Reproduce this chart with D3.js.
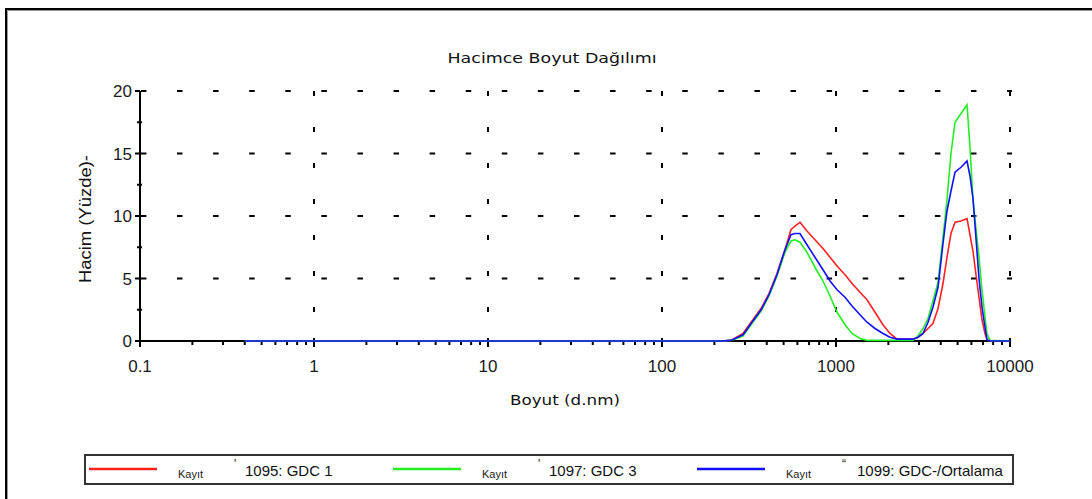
<!DOCTYPE html>
<html><head><meta charset="utf-8">
<script src="https://cdn.jsdelivr.net/npm/d3@7"></script>
<style>html,body{margin:0;padding:0;background:#fff;overflow:hidden}</style>
</head><body>
<script>
const sizes = [0.4, 221, 249, 292, 329, 371, 412, 458, 509, 551, 581, 621, 681, 757, 842, 924, 1014, 1127, 1236, 1374, 1507, 1676, 1862, 2043, 2243, 2493, 2770, 2960, 3162, 3380, 3607, 3858, 4121, 4344, 4580, 4831, 5230, 5662, 5889, 6127, 6377, 6634, 6903, 7183, 7376, 7674, 10000];
const red   = [0,0,0.05,0.6,1.6,2.6,3.8,5.4,7.3,8.9,9.2,9.5,8.8,8.1,7.4,6.7,6.0,5.3,4.6,3.9,3.3,2.3,1.3,0.6,0.15,0.15,0.15,0.3,0.6,1.0,1.4,2.6,4.6,6.7,8.6,9.5,9.6,9.8,8.5,7.2,5.3,3.5,1.7,0.6,0.1,0,0];
const green = [0,0,0.05,0.4,1.4,2.4,3.6,5.2,7.1,8.0,8.1,7.9,7.1,5.9,4.8,3.6,2.3,1.3,0.6,0.2,0.05,0.05,0.05,0.05,0.05,0.05,0.05,0.4,1.0,1.8,3.2,4.7,8.3,11.3,15.0,17.5,18.2,18.9,15.5,11.3,9.0,6.7,4.1,1.9,0.6,0.05,0];
const blue  = [0,0,0.05,0.5,1.5,2.5,3.7,5.3,7.3,8.5,8.6,8.6,7.7,6.7,5.7,4.8,4.1,3.5,2.8,2.1,1.5,1.0,0.6,0.3,0.15,0.15,0.15,0.3,0.6,1.5,2.7,4.3,7.8,10.4,12.0,13.5,13.9,14.4,13.2,11.4,8.2,5.0,2.7,1.1,0.1,0,0];
const seriesNames = ["1095: GDC  1", "1097: GDC  3", "1099: GDC-/Ortalama"];
const seriesColors = ["#ff2020", "#22ee22", "#1010ff"];
const xTicks = [0.1, 1, 10, 100, 1000, 10000];
const xTickLabels = ["0.1", "1", "10", "100", "1000", "10000"];
const yTicks = [0, 5, 10, 15, 20];
const yMinor = [2.5, 7.5, 12.5, 17.5];

const W = 1092, H = 499;
const svg = d3.select("body").append("svg").attr("width", W).attr("height", H);

// frame
svg.append("rect").attr("x", 6).attr("y", 9).attr("width", 1200).attr("height", 600)
  .attr("fill", "none").attr("stroke", "#000").attr("stroke-width", 2);
svg.append("path").attr("d", "M7.5,600 V10.5 H1200").attr("fill", "none").attr("stroke", "#999").attr("stroke-width", 1);

const x = d3.scaleLog().domain([0.1, 10000]).range([140, 1010]);
const y = d3.scaleLinear().domain([0, 20]).range([341, 91]);

// grid
const g = svg.append("g");
yTicks.filter(v => v > 0).forEach(v => {
  g.append("line").attr("x1", 140).attr("x2", 1012).attr("y1", y(v)).attr("y2", y(v))
    .attr("stroke", "#000").attr("stroke-width", 2).attr("stroke-dasharray", "5.5 30.59").attr("stroke-dashoffset", 35.18);
});
xTicks.filter(v => v > 0.1).forEach(v => {
  g.append("line").attr("x1", x(v)).attr("x2", x(v)).attr("y1", y(20)).attr("y2", y(0))
    .attr("stroke", "#000").attr("stroke-width", 2).attr("stroke-dasharray", "5 31");
});

// axes lines
svg.append("line").attr("x1", 140).attr("x2", 140).attr("y1", y(20)).attr("y2", y(0) + 1).attr("stroke", "#000").attr("stroke-width", 2);
svg.append("line").attr("x1", 139).attr("x2", 1011).attr("y1", y(0)).attr("y2", y(0)).attr("stroke", "#000").attr("stroke-width", 2);

// y ticks
yTicks.forEach(v => {
  svg.append("line").attr("x1", 135).attr("x2", 140).attr("y1", y(v)).attr("y2", y(v)).attr("stroke", "#000").attr("stroke-width", 2);
  svg.append("text").attr("x", 132).attr("y", y(v) + 6).attr("text-anchor", "end")
    .attr("font-family", "Liberation Sans, Arial, sans-serif").attr("font-size", 17).attr("fill", "#1a1a1a").text(v);
});
yMinor.forEach(v => {
  svg.append("line").attr("x1", 137).attr("x2", 142).attr("y1", y(v)).attr("y2", y(v)).attr("stroke", "#000").attr("stroke-width", 2);
});

// x ticks
const minor = [];
xTicks.slice(0, -1).forEach(d => { for (let k = 2; k <= 9; k++) minor.push(d * k); });
minor.forEach(v => {
  svg.append("line").attr("x1", x(v)).attr("x2", x(v)).attr("y1", y(0)).attr("y2", y(0) + 4).attr("stroke", "#000").attr("stroke-width", 2);
});
xTicks.forEach((v, i) => {
  svg.append("line").attr("x1", x(v)).attr("x2", x(v)).attr("y1", y(0) - 3).attr("y2", y(0) + 6).attr("stroke", "#000").attr("stroke-width", 2);
  svg.append("text").attr("x", x(v)).attr("y", 372).attr("text-anchor", "middle")
    .attr("font-family", "Liberation Sans, Arial, sans-serif").attr("font-size", 17).attr("fill", "#1a1a1a").text(xTickLabels[i]);
});

// titles
svg.append("text").attr("x", 552).attr("y", 63).attr("text-anchor", "middle")
  .attr("font-family", "DejaVu Sans, sans-serif").attr("font-size", 14).attr("fill", "#111")
  .attr("textLength", 209).attr("lengthAdjust", "spacingAndGlyphs").text("Hacimce Boyut Dağılımı");
svg.append("text").attr("x", 565).attr("y", 405).attr("text-anchor", "middle")
  .attr("font-family", "DejaVu Sans, sans-serif").attr("font-size", 14).attr("fill", "#111")
  .attr("textLength", 110).attr("lengthAdjust", "spacingAndGlyphs").text("Boyut (d.nm)");
svg.append("text").attr("transform", "translate(91,219) rotate(-90)").attr("text-anchor", "middle")
  .attr("font-family", "Liberation Sans, Arial, sans-serif").attr("font-size", 16).attr("fill", "#111")
  .attr("textLength", 128).attr("lengthAdjust", "spacingAndGlyphs").text("Hacim (Yüzde)-");

// lines
const data = [red, green, blue];
const line = d3.line().x(d => x(d[0])).y(d => y(d[1]));
data.forEach((vals, i) => {
  svg.append("path").datum(sizes.map((s, j) => [s, vals[j]]))
    .attr("d", line).attr("fill", "none").attr("stroke", seriesColors[i]).attr("stroke-width", 1.6);
});

// legend
svg.append("rect").attr("x", 85).attr("y", 455).attr("width", 928).attr("height", 29)
  .attr("fill", "#fff").attr("stroke", "#333").attr("stroke-width", 2);
svg.append("clipPath").attr("id", "lc").append("rect").attr("x", 86).attr("y", 456).attr("width", 925).attr("height", 27);
const lg = svg.append("g").attr("clip-path", "url(#lc)");
seriesNames.forEach((n, i) => {
  const x0 = 89 + i * 304;
  lg.append("line").attr("x1", x0).attr("x2", x0 + 68).attr("y1", 469).attr("y2", 469)
    .attr("stroke", seriesColors[i]).attr("stroke-width", 2.5);
  lg.append("text").attr("x", x0 + 89).attr("y", 478).attr("font-family", "Liberation Sans, Arial, sans-serif")
    .attr("font-size", 11).attr("fill", "#222").text("Kayıt");
  lg.append("text").attr("x", x0 + 145).attr("y", 468).attr("font-family", "Liberation Sans, Arial, sans-serif")
    .attr("font-size", 12).attr("fill", "#222").text(i === 2 ? "“" : "'");
  lg.append("text").attr("x", x0 + 156 + (i === 2 ? 4 : 0)).attr("y", 476).attr("font-family", "Liberation Sans, Arial, sans-serif")
    .attr("font-size", 15).attr("fill", "#111").text(n);
});
</script>
</body></html>
